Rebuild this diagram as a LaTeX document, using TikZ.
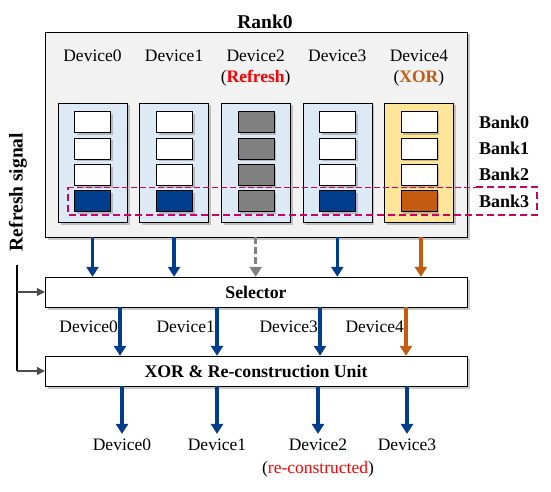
\documentclass[tikz,border=0pt]{standalone}
\usepackage{fontspec}
\setmainfont{Liberation Serif}
\usetikzlibrary{arrows.meta,positioning,shadows}

\definecolor{devblue}{RGB}{222,233,246}
\definecolor{xoryellow}{RGB}{255,229,153}
\definecolor{rankgray}{RGB}{242,242,242}
\definecolor{cellgray}{RGB}{128,128,128}
\definecolor{datablue}{RGB}{0,61,140}
\definecolor{xororange}{RGB}{197,90,17}
\definecolor{bankmagenta}{RGB}{204,0,102}
\definecolor{refreshred}{RGB}{255,0,0}

\begin{document}
\begin{tikzpicture}[
    x=1pt, y=-1pt,
    every node/.style = {font=\fontsize{17.5}{19}\selectfont, inner sep=0pt},
    softshadow/.style = {drop shadow={shadow xshift=2.5pt, shadow yshift=-2.5pt, opacity=0.3, fill=black!70}},
    rankbox/.style = {draw, fill=rankgray, minimum width=422pt, minimum height=205pt, softshadow},
    devbox/.style = {draw, minimum width=69pt, minimum height=119pt, softshadow},
    cell/.style = {draw, minimum width=36pt, minimum height=21pt, softshadow},
    unitbox/.style = {draw, fill=white, minimum width=422pt, minimum height=30pt,
                      font=\fontsize{17.8}{19}\selectfont\bfseries, softshadow},
    boldlbl/.style = {font=\fontsize{18}{20}\selectfont\bfseries},
    data/.style = {line width=3.5pt, datablue, -{Triangle[width=12pt,length=10pt]}},
    >={Triangle[width=8pt,length=8pt]},
  ]
    \useasboundingbox (0,0) rectangle (551,492);

    % rank with its five devices
    \node[rankbox] (rank) at (256,134.5) {};
    \node[boldlbl, font=\fontsize{19.5}{21}\selectfont\bfseries] (ranklbl) at (265,22) {Rank0};

    \foreach \i/\boxc/\topc/\lastc in {0/devblue/white/datablue, 1/devblue/white/datablue,
        2/devblue/cellgray/cellgray, 3/devblue/white/datablue, 4/xoryellow/white/xororange} {
      \pgfmathsetmacro\xx{92.5+81.6*\i}
      \node (devname\i) at (\xx,56) {Device\i};
      \node[devbox, fill=\boxc] (dev\i) at (\xx,162.5) {};
      \foreach \j in {0,1,2}
        \node[cell, fill=\topc] (cell\i\j) at (\xx,{122+26.3*\j}) {};
      \node[cell, fill=\lastc] (cell\i3) at (\xx,{122+26.3*3}) {};
    }
    \node (devnote2) at (devname2 |- 0,78) {(\textcolor{refreshred}{\textbf{Refresh}})};
    \node (devnote4) at (devname4 |- 0,78) {(\textcolor{xororange}{\textbf{XOR}})};

    % bank rows
    \foreach \j in {0,...,3}
      \node[boldlbl, anchor=west] (banklbl\j) at (479,{122+26.3*\j}) {Bank\j};
    \draw[bankmagenta, line width=1pt, dash pattern=on 6pt off 3pt] (68,187) -- (476,187);
    \draw[bankmagenta, line width=2.3pt, dash pattern=on 7pt off 4pt]
      (476,187) -- (537,187) -- (537,215) -- (68,215) -- (68,187);

    % selector and xor units
    \node[unitbox] (sel) at (256,292) {Selector};
    \node[unitbox] (xor) at (256,371) {XOR \& Re-construction Unit};

    \foreach \i in {0,1,3}
      \draw[data] (dev\i |- rank.south) -- (dev\i |- sel.north);
    \draw[data, cellgray, dash pattern=on 7pt off 3pt] (dev2 |- rank.south) -- (dev2 |- sel.north);
    \draw[data, xororange] ([xshift=2pt]dev4.south |- rank.south) -- ([xshift=2pt]dev4.south |- sel.north);

    \foreach \k/\xx/\lbl in {0/120/Device0, 1/217/Device1, 2/320/Device3} {
      \coordinate (mid\k) at (\xx,0);
      \draw[data] (mid\k |- sel.south) -- (mid\k |- xor.north);
      \node[anchor=east] (midlbl\k) at (\xx-2,327) {\lbl};
    }
    \coordinate (mid3) at (406,0);
    \draw[data, xororange] (mid3 |- sel.south) -- (mid3 |- xor.north);
    \node[anchor=east] (midlbl3) at (404,327) {Device4};

    % reconstructed outputs
    \foreach \k/\xx in {0/122, 1/217, 2/318, 3/407} {
      \node (out\k) at (\xx,445) {Device\k};
      \draw[data] (out\k |- xor.south) -- ([yshift=5pt]out\k.north);
    }
    \node[below=10pt of out2] (recon) {(\textcolor{refreshred}{re-constructed})};

    % refresh signal
    \node[boldlbl, font=\fontsize{19.5}{21}\selectfont\bfseries, rotate=90] (refsig) at (18,192) {Refresh signal};
    \coordinate (sigtop) at (17,265);
    \draw[line width=1.3pt] (sigtop) -- (sigtop |- xor.west);
    \draw[line width=1.3pt, black!70, ->] (sigtop |- sel.west) -- (sel.west);
    \draw[line width=1.3pt, black!70, ->] (sigtop |- xor.west) -- (xor.west);
\end{tikzpicture}
\end{document}
